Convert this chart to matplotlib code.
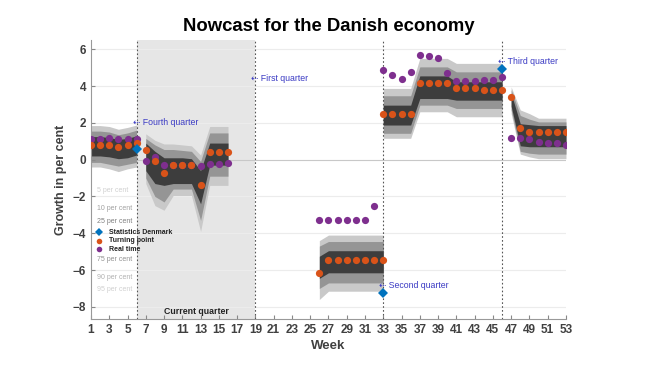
import numpy as np
import matplotlib.pyplot as plt

plt.rcParams['font.family'] = ['Liberation Sans', 'DejaVu Sans']

# forecast bands, turning point and real time nowcasts, by segment
weeks_1 = [1, 2, 3, 4, 5, 6]
p95_1 = [1.85, 1.85, 1.8, 1.65, 1.75, 1.88]
p90_1 = [1.55, 1.55, 1.5, 1.35, 1.45, 1.6]
p75_1 = [1.25, 1.25, 1.2, 1.1, 1.15, 1.3]
p25_1 = [0.2, 0.2, 0.15, 0.05, 0.1, 0.25]
p10_1 = [-0.15, -0.15, -0.25, -0.35, -0.25, -0.15]
p5_1 = [-0.4, -0.4, -0.5, -0.65, -0.5, -0.4]
turn_1 = [0.8, 0.8, 0.8, 0.7, 0.8, 0.88]
real_1 = [1.12, 1.12, 1.2, 1.1, 1.12, 1.12]

weeks_2 = [7, 8, 9, 10, 11, 12, 13, 14, 15, 16]
p95_2 = [1.4, 1.05, 0.85, 0.85, 0.8, 0.75, 0.25, 1.8, 1.8, 1.8]
p90_2 = [1.15, 0.8, 0.55, 0.55, 0.5, 0.45, -0.1, 1.45, 1.45, 1.45]
p75_2 = [0.9, 0.45, 0.1, 0.1, 0.1, 0.05, -0.6, 0.9, 0.9, 0.9]
p25_2 = [-0.6, -1.3, -1.4, -1.3, -1.3, -1.3, -2.4, -0.3, -0.3, -0.3]
p10_2 = [-1.0, -2.0, -2.3, -1.6, -1.6, -1.6, -3.3, -0.9, -0.9, -0.9]
p5_2 = [-1.3, -2.5, -2.75, -1.95, -1.95, -1.95, -3.9, -1.4, -1.4, -1.4]
turn_2 = [0.52, -0.08, -0.7, -0.3, -0.3, -0.3, -1.4, 0.43, 0.43, 0.43]
real_2 = [-0.08, 0.12, -0.3, -0.3, -0.3, -0.3, -0.35, -0.26, -0.26, -0.2]

weeks_3 = [26, 27, 28, 29, 30, 31, 32, 33]
p95_3 = [-4.4, -4.1, -4.1, -4.1, -4.1, -4.1, -4.1, -4.1]
p90_3 = [-4.7, -4.45, -4.45, -4.45, -4.45, -4.45, -4.45, -4.45]
p75_3 = [-5.25, -4.95, -4.95, -4.95, -4.95, -4.95, -4.95, -4.95]
p25_3 = [-6.45, -6.15, -6.15, -6.15, -6.15, -6.15, -6.15, -6.15]
p10_3 = [-7.0, -6.7, -6.7, -6.7, -6.7, -6.7, -6.7, -6.7]
p5_3 = [-7.6, -7.15, -7.15, -7.15, -7.15, -7.15, -7.15, -7.15]
turn_3 = [-6.17, -5.45, -5.45, -5.45, -5.45, -5.45, -5.45, -5.45]
real_3 = [-3.27, -3.27, -3.27, -3.27, -3.27, -3.27, -2.5, np.nan]

weeks_4 = [33, 34, 35, 36, 37, 38, 39, 40, 41, 42, 43, 44, 45, 46]
p95_4 = [3.87, 3.87, 3.87, 3.87, 5.5, 5.5, 5.5, 5.5, 5.23, 5.23, 5.23, 5.23, 5.23, 5.23]
p90_4 = [3.47, 3.47, 3.47, 3.47, 5.04, 5.04, 5.04, 5.04, 4.77, 4.77, 4.77, 4.77, 4.77, 4.77]
p75_4 = [2.96, 2.96, 2.96, 2.96, 4.55, 4.55, 4.55, 4.55, 4.23, 4.23, 4.23, 4.23, 4.23, 4.23]
p25_4 = [1.88, 1.88, 1.88, 1.88, 3.32, 3.32, 3.32, 3.32, 3.23, 3.23, 3.23, 3.23, 3.23, 3.23]
p10_4 = [1.43, 1.43, 1.43, 1.43, 2.96, 2.96, 2.96, 2.96, 2.78, 2.78, 2.78, 2.78, 2.78, 2.78]
p5_4 = [1.16, 1.16, 1.16, 1.16, 2.6, 2.6, 2.6, 2.6, 2.33, 2.33, 2.33, 2.33, 2.33, 2.33]
turn_4 = [2.47, 2.47, 2.47, 2.47, 4.17, 4.17, 4.17, 4.17, 3.87, 3.87, 3.87, 3.78, 3.78, 3.78]
real_4 = [4.86, 4.59, 4.37, 4.74, 5.67, 5.62, 5.53, 4.68, 4.28, 4.28, 4.28, 4.35, 4.35, 4.5]

weeks_5 = [47, 48, 49, 50, 51, 52, 53]
p95_5 = [3.95, 2.7, 2.5, 2.25, 2.25, 2.25, 2.25]
p90_5 = [3.8, 2.4, 2.2, 2.05, 2.05, 2.05, 2.05]
p75_5 = [3.6, 1.95, 1.9, 1.85, 1.85, 1.85, 1.85]
p25_5 = [2.9, 0.75, 0.7, 0.7, 0.7, 0.7, 0.7]
p10_5 = [2.7, 0.45, 0.35, 0.3, 0.3, 0.3, 0.3]
p5_5 = [2.5, 0.3, 0.15, 0.05, 0.05, 0.05, 0.05]
turn_5 = [3.38, 1.7, 1.52, 1.52, 1.52, 1.52, 1.52]
real_5 = [1.15, 1.15, 1.1, 0.97, 0.9, 0.88, 0.79]

# Statistics Denmark releases
dst_weeks = [6, 33, 46]
dst_values = [0.6, -7.26, 4.9]

quarter_lines = [6, 19, 33, 46]
quarter_labels = ['Fourth quarter', 'First quarter', 'Second quarter', 'Third quarter']
quarter_label_y = [2.04, 4.41, -6.82, 5.31]

segments = [
    (weeks_1, p5_1, p10_1, p25_1, p75_1, p90_1, p95_1, turn_1, real_1),
    (weeks_2, p5_2, p10_2, p25_2, p75_2, p90_2, p95_2, turn_2, real_2),
    (weeks_3, p5_3, p10_3, p25_3, p75_3, p90_3, p95_3, turn_3, real_3),
    (weeks_4, p5_4, p10_4, p25_4, p75_4, p90_4, p95_4, turn_4, real_4),
    (weeks_5, p5_5, p10_5, p25_5, p75_5, p90_5, p95_5, turn_5, real_5),
]

orange = '#d95319'
purple = '#7e2f8e'
blue = '#0072bd'
label_blue = '#3b3bc4'
txt = '#404040'

fig = plt.figure(figsize=(6.66, 3.82), dpi=100)
ax = fig.add_axes([0.1366, 0.1649, 0.7132, 0.7304])

ax.axvspan(6, 19, color='#e6e6e6', lw=0, zorder=0)
for y in range(-8, 7, 2):
    ax.axhline(y, color='#c8c8c8' if y == 0 else '#ececec', lw=0.8, zorder=0.5)

for w, p5, p10, p25, p75, p90, p95, tp, rt in segments:
    ax.fill_between(w, p5, p95, color='#c9c9c9', lw=0, zorder=1)
    ax.fill_between(w, p10, p90, color='#959595', lw=0, zorder=1.1)
    ax.fill_between(w, p25, p75, color='#3d3d3d', lw=0, zorder=1.2)
    ax.plot(w, rt, 'o', color=purple, ms=5.2, mew=0, zorder=3)
    ax.plot(w, tp, 'o', color=orange, ms=5.2, mew=0, zorder=3.5)

ax.plot(dst_weeks, dst_values, 'D', color=blue, ms=5.5, mew=0, zorder=4)

for x, lab, ly in zip(quarter_lines, quarter_labels, quarter_label_y):
    ax.axvline(x, color='#555555', lw=0.8, ls=(0, (1.5, 2)), zorder=2)
    ax.text(x - 0.45, ly, '\u21e0 ' + lab, color=label_blue, fontsize=6.3,
            va='center', ha='left', zorder=5)

ax.text(12.5, -8.25, 'Current quarter', fontsize=6.3, fontweight='bold',
        ha='center', va='center', color='#222222')

# legend drawn as texts
pct_labels = ['5 per cent', '10 per cent', '25 per cent', '75 per cent', '90 per cent', '95 per cent']
pct_y = [-1.70, -2.66, -3.35, -5.45, -6.39, -7.08]
pct_colors = ['#d0d0d0', '#a0a0a0', '#808080', '#909090', '#b0b0b0', '#d0d0d0']
for lab, y, c in zip(pct_labels, pct_y, pct_colors):
    ax.text(1.66, y, lab, fontsize=5, color=c, va='center', ha='left')

leg_names = ['Statistics Denmark', 'Turning point', 'Real time']
leg_y = [-3.94, -4.40, -4.87]
leg_markers = ['D', 'o', 'o']
leg_colors = [blue, orange, purple]
for name, y, m, c in zip(leg_names, leg_y, leg_markers, leg_colors):
    ax.plot([1.9], [y], m, color=c, ms=4, mew=0, zorder=5, clip_on=False)
    ax.text(2.97, y, name, fontsize=5.0, fontweight='bold', color='#222222',
            va='center', ha='left', zorder=5)

ax.set_xlim(1, 53)
ax.set_ylim(-8.66, 6.5)
ax.set_xticks(range(1, 54, 2))
ax.set_yticks(range(-8, 7, 2))
ax.tick_params(direction='in', length=3, color='#888888', labelcolor=txt,
               labelsize=8.5)
for lab in ax.get_xticklabels() + ax.get_yticklabels():
    lab.set_fontweight('bold')
for s in ['top', 'right']:
    ax.spines[s].set_visible(False)
for s in ['left', 'bottom']:
    ax.spines[s].set_color('#999999')
    ax.spines[s].set_linewidth(0.8)

ax.set_xlabel('Week', fontsize=9.5, fontweight='bold', color=txt, labelpad=3)
ax.set_ylabel('Growth in per cent', fontsize=9, fontweight='bold', color=txt, labelpad=4)
fig.text(0.494, 0.93, 'Nowcast for the Danish economy', fontsize=13.3,
         fontweight='bold', ha='center', va='center')

fig.savefig('out.png', dpi=100)
